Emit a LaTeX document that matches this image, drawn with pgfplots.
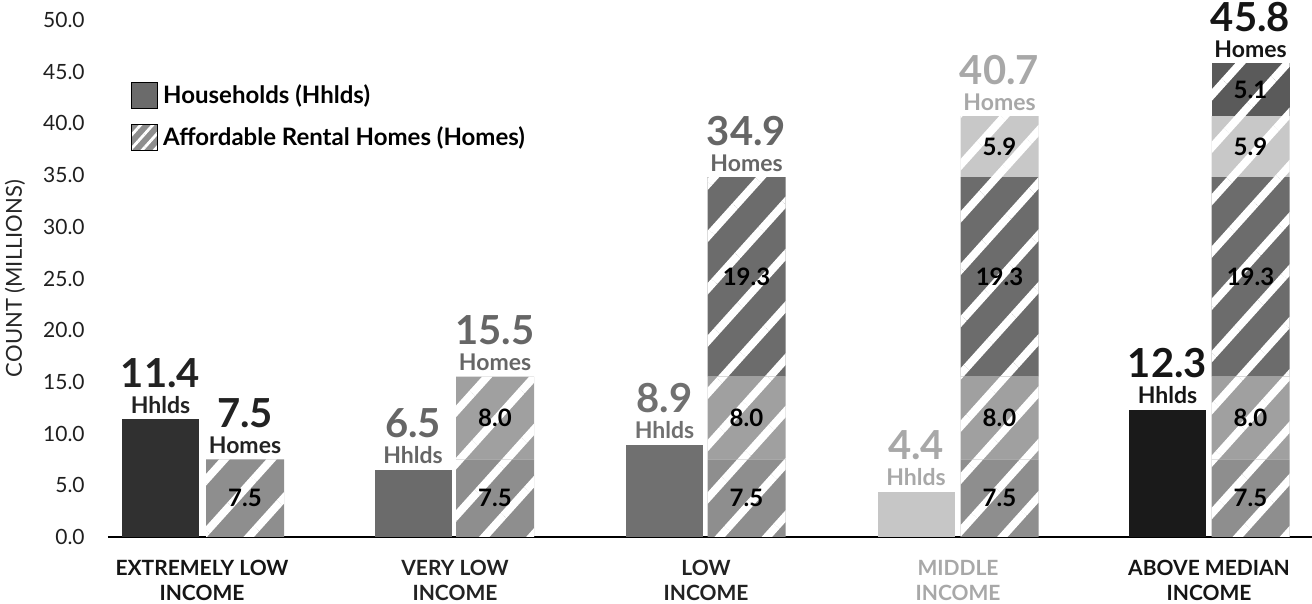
\documentclass[border=0pt]{standalone}
\usepackage{fontspec}
\setmainfont{Lato}
\usepackage{pgfplots}
\pgfplotsset{compat=1.18}
\usetikzlibrary{patterns.meta}

\definecolor{hhA}{HTML}{303030}
\definecolor{hhB}{HTML}{6B6B6B}
\definecolor{hhC}{HTML}{707070}
\definecolor{hhD}{HTML}{C6C6C6}
\definecolor{hhE}{HTML}{1A1A1A}
\definecolor{sA}{HTML}{8E8E8E}
\definecolor{sB}{HTML}{A0A0A0}
\definecolor{sC}{HTML}{6C6C6C}
\definecolor{sD}{HTML}{C8C8C8}
\definecolor{sE}{HTML}{5A5A5A}
\definecolor{tA}{HTML}{222222}
\definecolor{tB}{HTML}{666666}
\definecolor{tC}{HTML}{707070}
\definecolor{tD}{HTML}{A8A8A8}
\definecolor{tE}{HTML}{151515}

\newcommand{\toplabel}[5]{%
  \node[anchor=base, text=#5, font=\bfseries\fontsize{11.5}{12}\selectfont, inner sep=0pt] at ([yshift=3pt]axis cs:#1,#2) {#4};
  \node[anchor=base, text=#5, font=\bfseries\fontsize{20}{20}\selectfont, inner sep=0pt] at ([yshift=16pt]axis cs:#1,#2) {#3};
}
\newcommand{\seglabel}[3]{%
  \node[text=black, font=\bfseries\fontsize{12}{12}\selectfont, inner sep=0pt] at (axis cs:#1,#2) {#3};
}

\begin{document}
\begin{tikzpicture}
\pgfplotsset{
  base/.style={
    scale only axis, width=602pt, height=258.5pt,
    xmin=108, xmax=1312, ymin=0, ymax=50,
    clip=false,
  }
}
\begin{axis}[base,
  axis lines=left, axis line style={-},
  y axis line style={draw=none},
  x axis line style={line width=1pt, black},
  ytick={0,5,...,50},
  y tick label style={/pgf/number format/fixed, /pgf/number format/fixed zerofill,
    /pgf/number format/precision=1, /pgf/number format/assume math mode=true,
    font=\fontsize{10.5}{12}\selectfont, text=black!88, xshift=-6pt},
  ytick style={draw=none},
  xtick={202,455,706,958,1209},
  xticklabels={
    {\textcolor{tE}{EXTREMELY LOW}\\\textcolor{tE}{INCOME}},
    {\textcolor{tA}{VERY LOW}\\\textcolor{tA}{INCOME}},
    {\textcolor{tA}{LOW}\\\textcolor{tA}{INCOME}},
    {\textcolor{tD}{MIDDLE}\\\textcolor{tD}{INCOME}},
    {\textcolor{tE}{ABOVE MEDIAN}\\\textcolor{tE}{INCOME}}},
  xtick style={draw=none},
  xticklabel style={align=center, font=\bfseries\fontsize{10.5}{12.5}\selectfont, yshift=-4pt},
  ylabel={COUNT (MILLIONS)},
  ylabel style={at={(axis description cs:-0.0772,0.5)}, anchor=center, font=\fontsize{11}{13}\selectfont, text=black!85},
  ybar, bar shift=0pt, bar width=77,
  legend image code/.code={\fill[#1] (0pt,-6.5pt) rectangle (13pt,6.5pt);},
  legend style={at={(axis cs:130,44.2)}, anchor=north west, draw=none, fill=none,
    font=\bfseries\fontsize{12}{14}\selectfont, row sep=6pt, inner sep=0pt},
  legend cell align=left,
]
\addlegendimage{fill=hhB}
\addlegendentry{Households (Hhlds)}
\addlegendimage{fill=sA, postaction={pattern color=white, pattern={Lines[angle=48,distance=4.5pt,line width=1.4pt]}}}
\addlegendentry{Affordable Rental Homes (Homes)}
\addplot[fill=hhA, draw=none, forget plot] coordinates {(160.5,11.4)};
\addplot[fill=hhB, draw=none, forget plot] coordinates {(413,6.5)};
\addplot[fill=hhC, draw=none, forget plot] coordinates {(664.5,8.9)};
\addplot[fill=hhD, draw=none, forget plot] coordinates {(916,4.4)};
\addplot[fill=hhE, draw=none, forget plot] coordinates {(1167.5,12.3)};
\end{axis}

\begin{axis}[base, hide axis, ybar stacked, bar width=78,
  every axis plot/.append style={draw=none,
    postaction={pattern color=white, pattern={Lines[angle=48,distance=17.5pt,line width=3.9pt]}}},
]
\addplot[fill=sA] coordinates {(245,7.5) (495,7.5) (746.5,7.5) (999.5,7.5) (1250.5,7.5)};
\addplot[fill=sB] coordinates {(245,0) (495,8.0) (746.5,8.0) (999.5,8.0) (1250.5,8.0)};
\addplot[fill=sC] coordinates {(245,0) (495,0) (746.5,19.3) (999.5,19.3) (1250.5,19.3)};
\addplot[fill=sD] coordinates {(245,0) (495,0) (746.5,0) (999.5,5.9) (1250.5,5.9)};
\addplot[fill=sE] coordinates {(245,0) (495,0) (746.5,0) (999.5,0) (1250.5,5.1)};
\end{axis}

\begin{axis}[base, hide axis]
\toplabel{160.5}{11.4}{11.4}{Hhlds}{tA}
\toplabel{413}{6.5}{6.5}{Hhlds}{tB}
\toplabel{664.5}{8.9}{8.9}{Hhlds}{tC}
\toplabel{916}{4.4}{4.4}{Hhlds}{tD}
\toplabel{1167.5}{12.3}{12.3}{Hhlds}{tE}
\toplabel{245}{7.5}{7.5}{Homes}{tA}
\toplabel{495}{15.5}{15.5}{Homes}{tB}
\toplabel{746.5}{34.8}{34.9}{Homes}{tB}
\toplabel{999.5}{40.7}{40.7}{Homes}{tD}
\toplabel{1250.5}{45.8}{45.8}{Homes}{tE}

\seglabel{245}{3.75}{7.5}
\seglabel{495}{3.75}{7.5}
\seglabel{746.5}{3.75}{7.5}
\seglabel{999.5}{3.75}{7.5}
\seglabel{1250.5}{3.75}{7.5}
\seglabel{495}{11.5}{8.0}
\seglabel{746.5}{11.5}{8.0}
\seglabel{999.5}{11.5}{8.0}
\seglabel{1250.5}{11.5}{8.0}
\seglabel{746.5}{25.15}{19.3}
\seglabel{999.5}{25.15}{19.3}
\seglabel{1250.5}{25.15}{19.3}
\seglabel{999.5}{37.75}{5.9}
\seglabel{1250.5}{37.75}{5.9}
\seglabel{1250.5}{43.25}{5.1}
\end{axis}
\pgfresetboundingbox
\path[use as bounding box] ([xshift=-54pt,yshift=-33.5pt]current axis.south west) rectangle ([yshift=10pt]current axis.north east);
\end{tikzpicture}
\end{document}
